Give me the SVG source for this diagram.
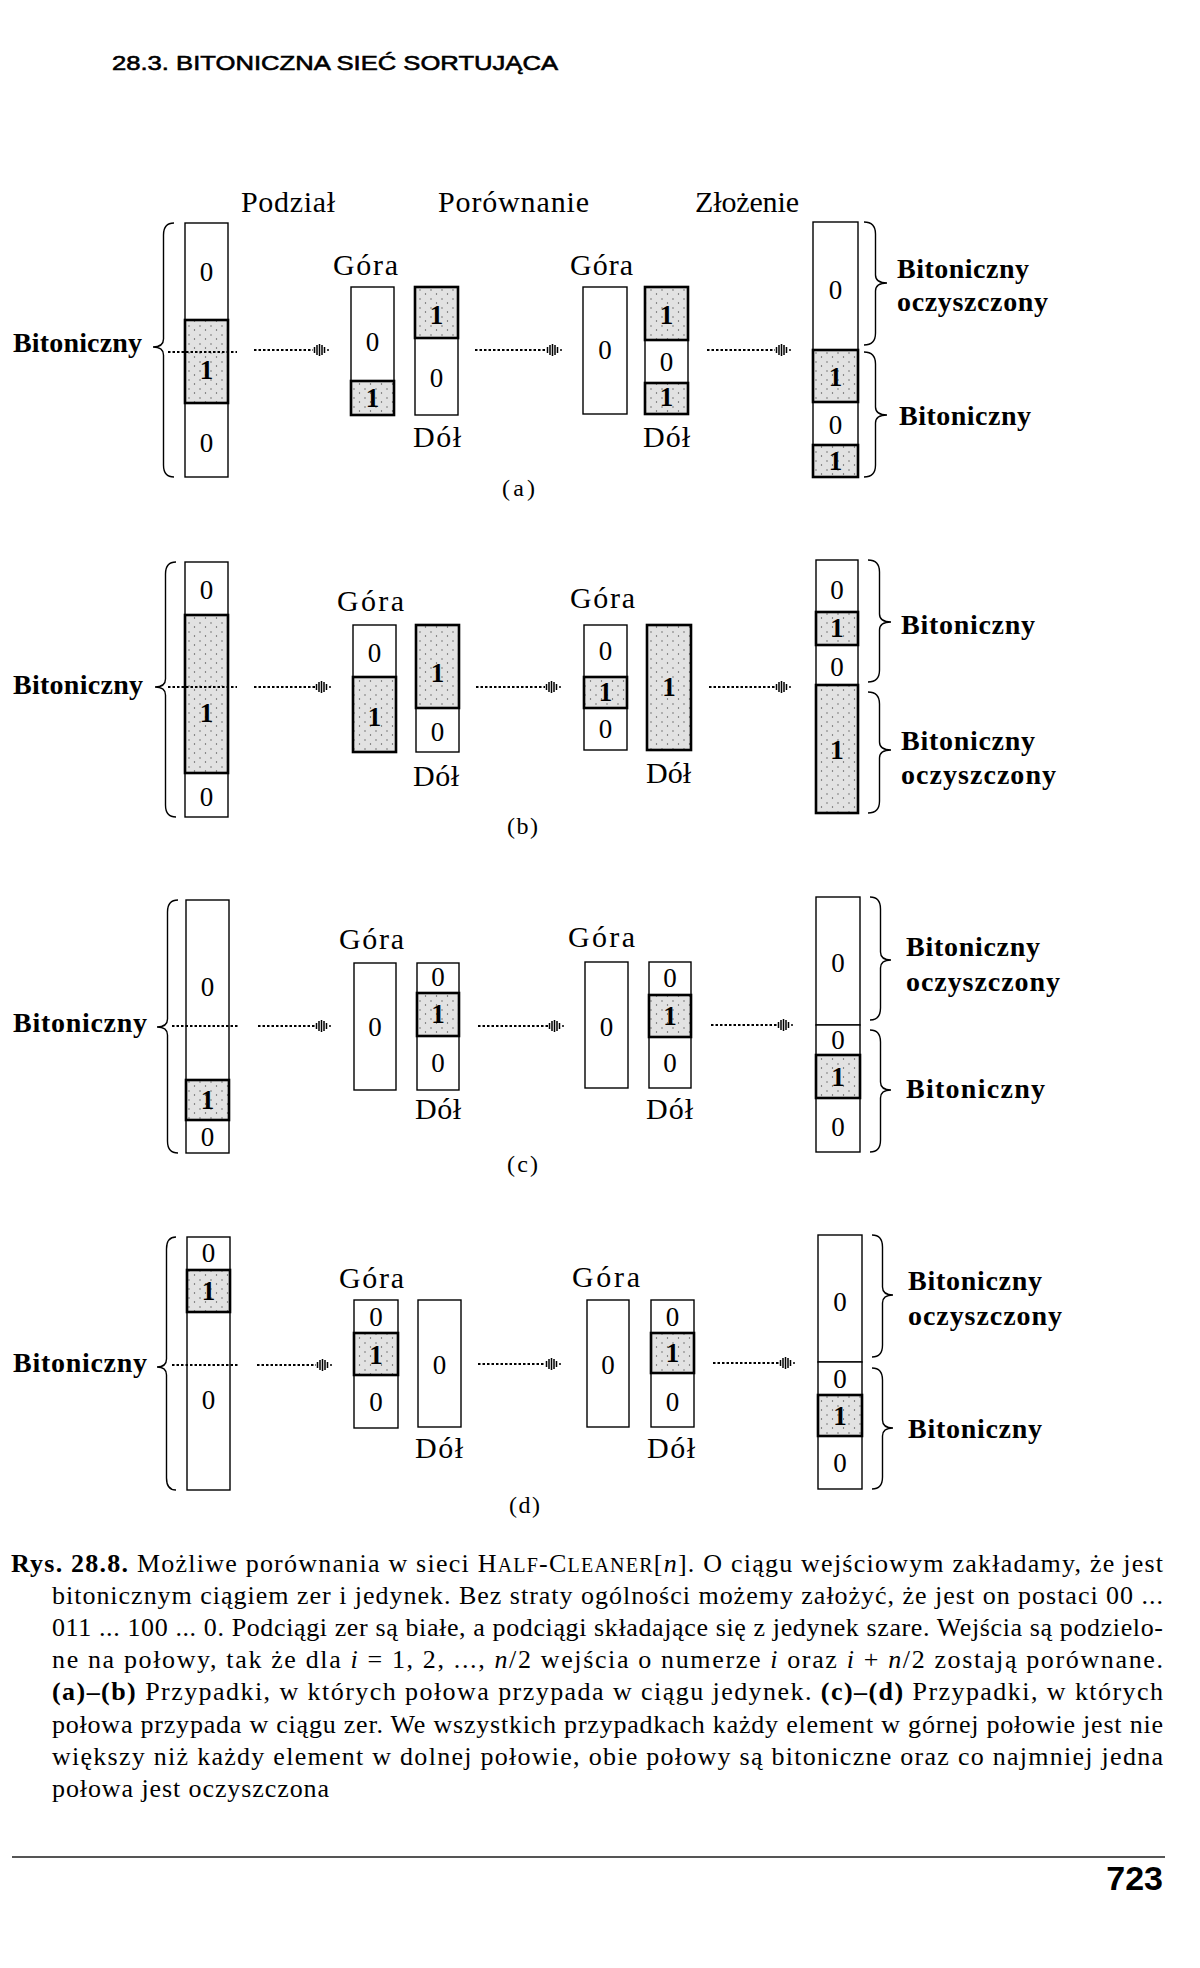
<svg xmlns="http://www.w3.org/2000/svg" width="1200" height="1968" viewBox="0 0 1200 1968">
<defs>
<style>
.w{fill:#fff;stroke:#000;stroke-width:1.4}
.g{fill:url(#stip);stroke:#000;stroke-width:2.6}
.d0{font-family:"Liberation Serif",serif;font-size:27px;text-anchor:middle}
.d1{font-family:"Liberation Serif",serif;font-size:27px;font-weight:bold;text-anchor:middle}
.hd{font-family:"Liberation Serif",serif;font-size:30px}
.gd{font-family:"Liberation Serif",serif;font-size:30px}
.bl{font-family:"Liberation Serif",serif;font-size:28px;font-weight:bold}
.pl{font-family:"Liberation Serif",serif;font-size:24px}
.dot{fill:none;stroke:#000;stroke-width:2;stroke-dasharray:2.5 2}
.br{fill:none;stroke:#000;stroke-width:1.4}
.cap{font-family:"Liberation Serif",serif;font-size:26px}
</style>
<pattern id="stip" width="11" height="9" patternUnits="userSpaceOnUse">
<rect width="11" height="9" fill="#e2e2e2"/>
<circle cx="2" cy="2" r="0.7" fill="#555"/>
<circle cx="7.5" cy="6" r="0.7" fill="#555"/>
</pattern>
<marker id="head" markerUnits="userSpaceOnUse" markerWidth="18" markerHeight="14" viewBox="0 -7 18 14" refX="0" refY="0" orient="auto">
<path d="M1.5 -3V3M4 -5V5M6.5 -6V6M9 -5V5M11.5 -3V3" stroke="#000" stroke-width="1.5" fill="none"/>
<circle cx="15" cy="0" r="1" fill="#000"/>
</marker>
</defs>
<rect width="1200" height="1968" fill="#fff"/>

<text x="112" y="70" font-family="'Liberation Sans',Arial,sans-serif" font-size="21" stroke="#000" stroke-width="0.6" textLength="446" lengthAdjust="spacingAndGlyphs">28.3.  BITONICZNA SIEĆ SORTUJĄCA</text>

<g id="headings">
<text class="hd" x="241" y="212" textLength="94">Podział</text>
<text class="hd" x="438" y="212" textLength="151">Porównanie</text>
<text class="hd" x="695" y="212" textLength="104">Złożenie</text>
</g>

<!-- ===== Panel (a) ===== -->
<g id="a-labels">
<text class="bl" x="13" y="352" textLength="129">Bitoniczny</text>
<text class="gd" x="333" y="275" textLength="65">Góra</text>
<text class="gd" x="413" y="447" textLength="48">Dół</text>
<text class="gd" x="570" y="275" textLength="63">Góra</text>
<text class="gd" x="643" y="447" textLength="47">Dół</text>
<text class="pl" x="502" y="496" textLength="33">(a)</text>
<text class="bl" x="897" y="278" textLength="132">Bitoniczny</text>
<text class="bl" x="897" y="311" textLength="151">oczyszczony</text>
<text class="bl" x="899" y="425" textLength="132">Bitoniczny</text>
</g>
<g id="a-input">
<rect class="w" x="185" y="223" width="43" height="97"/><text class="d0" x="206.5" y="281">0</text>
<rect class="w" x="185" y="403" width="43" height="74"/><text class="d0" x="206.5" y="452">0</text>
<rect class="g" x="185" y="320" width="43" height="83"/><text class="d1" x="206.5" y="379">1</text>
</g>
<g id="a-top1">
<rect class="w" x="351" y="287" width="43" height="94"/><text class="d0" x="372.5" y="351">0</text>
<rect class="g" x="351" y="381" width="43" height="34"/><text class="d1" x="372.5" y="407">1</text>
</g>
<g id="a-bot1">
<rect class="w" x="415" y="338" width="43" height="77"/><text class="d0" x="436.5" y="387">0</text>
<rect class="g" x="415" y="287" width="43" height="51"/><text class="d1" x="436.5" y="324">1</text>
</g>
<g id="a-top2">
<rect class="w" x="583" y="287" width="44" height="127"/><text class="d0" x="605" y="359">0</text>
</g>
<g id="a-bot2">
<rect class="w" x="645" y="340" width="43" height="43"/><text class="d0" x="666.5" y="371">0</text>
<rect class="g" x="645" y="287" width="43" height="53"/><text class="d1" x="666.5" y="324">1</text>
<rect class="g" x="645" y="383" width="43" height="31"/><text class="d1" x="666.5" y="406">1</text>
</g>
<g id="a-output">
<rect class="w" x="813" y="222" width="45" height="128"/><text class="d0" x="835.5" y="299">0</text>
<rect class="w" x="813" y="402" width="45" height="43"/><text class="d0" x="835.5" y="434">0</text>
<rect class="g" x="813" y="350" width="45" height="52"/><text class="d1" x="835.5" y="386">1</text>
<rect class="g" x="813" y="445" width="45" height="32"/><text class="d1" x="835.5" y="470">1</text>
</g>

<!-- ===== Panel (b) ===== -->
<g id="b-labels">
<text class="bl" x="13" y="694" textLength="130">Bitoniczny</text>
<text class="gd" x="337" y="611" textLength="67">Góra</text>
<text class="gd" x="413" y="786" textLength="46">Dół</text>
<text class="gd" x="570" y="608" textLength="65">Góra</text>
<text class="gd" x="646" y="783" textLength="45">Dół</text>
<text class="pl" x="507" y="834" textLength="31">(b)</text>
<text class="bl" x="901" y="634" textLength="134">Bitoniczny</text>
<text class="bl" x="901" y="750" textLength="134">Bitoniczny</text>
<text class="bl" x="901" y="784" textLength="155">oczyszczony</text>
</g>
<g id="b-input">
<rect class="w" x="185" y="562" width="43" height="53"/><text class="d0" x="206.5" y="599">0</text>
<rect class="w" x="185" y="773" width="43" height="44"/><text class="d0" x="206.5" y="806">0</text>
<rect class="g" x="185" y="615" width="43" height="158"/><text class="d1" x="206.5" y="722">1</text>
</g>
<g id="b-top1">
<rect class="w" x="353" y="625" width="43" height="52"/><text class="d0" x="374.5" y="662">0</text>
<rect class="g" x="353" y="677" width="43" height="75"/><text class="d1" x="374.5" y="726">1</text>
</g>
<g id="b-bot1">
<rect class="w" x="416" y="708" width="43" height="44"/><text class="d0" x="437.5" y="741">0</text>
<rect class="g" x="416" y="625" width="43" height="83"/><text class="d1" x="437.5" y="682">1</text>
</g>
<g id="b-top2">
<rect class="w" x="584" y="625" width="43" height="52"/><text class="d0" x="605.5" y="660">0</text>
<rect class="w" x="584" y="708" width="43" height="42"/><text class="d0" x="605.5" y="738">0</text>
<rect class="g" x="584" y="677" width="43" height="31"/><text class="d1" x="605.5" y="701">1</text>
</g>
<g id="b-bot2">
<rect class="g" x="647" y="625" width="44" height="125"/><text class="d1" x="669" y="696">1</text>
</g>
<g id="b-output">
<rect class="w" x="816" y="560" width="42" height="52"/><text class="d0" x="837" y="599">0</text>
<rect class="w" x="816" y="645" width="42" height="40"/><text class="d0" x="837" y="676">0</text>
<rect class="g" x="816" y="612" width="42" height="33"/><text class="d1" x="837" y="637">1</text>
<rect class="g" x="816" y="685" width="42" height="128"/><text class="d1" x="837" y="759">1</text>
</g>

<!-- ===== Panel (c) ===== -->
<g id="c-labels">
<text class="bl" x="13" y="1032" textLength="134">Bitoniczny</text>
<text class="gd" x="339" y="949" textLength="65">Góra</text>
<text class="gd" x="415" y="1119" textLength="46">Dół</text>
<text class="gd" x="568" y="947" textLength="67">Góra</text>
<text class="gd" x="646" y="1119" textLength="47">Dół</text>
<text class="pl" x="507" y="1172" textLength="31">(c)</text>
<text class="bl" x="906" y="956" textLength="134">Bitoniczny</text>
<text class="bl" x="906" y="991" textLength="154">oczyszczony</text>
<text class="bl" x="906" y="1098" textLength="139">Bitoniczny</text>
</g>
<g id="c-input">
<rect class="w" x="186" y="900" width="43" height="180"/><text class="d0" x="207.5" y="996">0</text>
<rect class="w" x="186" y="1120" width="43" height="33"/><text class="d0" x="207.5" y="1146">0</text>
<rect class="g" x="186" y="1080" width="43" height="40"/><text class="d1" x="207.5" y="1109">1</text>
</g>
<g id="c-top1">
<rect class="w" x="354" y="963" width="42" height="127"/><text class="d0" x="375" y="1036">0</text>
</g>
<g id="c-bot1">
<rect class="w" x="417" y="963" width="42" height="30"/><text class="d0" x="438" y="986">0</text>
<rect class="w" x="417" y="1036" width="42" height="54"/><text class="d0" x="438" y="1072">0</text>
<rect class="g" x="417" y="993" width="42" height="43"/><text class="d1" x="438" y="1023">1</text>
</g>
<g id="c-top2">
<rect class="w" x="585" y="962" width="43" height="126"/><text class="d0" x="606.5" y="1036">0</text>
</g>
<g id="c-bot2">
<rect class="w" x="649" y="962" width="42" height="33"/><text class="d0" x="670" y="987">0</text>
<rect class="w" x="649" y="1037" width="42" height="51"/><text class="d0" x="670" y="1072">0</text>
<rect class="g" x="649" y="995" width="42" height="42"/><text class="d1" x="670" y="1025">1</text>
</g>
<g id="c-output">
<rect class="w" x="816" y="897" width="44" height="128"/><text class="d0" x="838" y="972">0</text>
<rect class="w" x="816" y="1025" width="44" height="30"/><text class="d0" x="838" y="1049">0</text>
<rect class="w" x="816" y="1098" width="44" height="54"/><text class="d0" x="838" y="1136">0</text>
<rect class="g" x="816" y="1055" width="44" height="43"/><text class="d1" x="838" y="1086">1</text>
</g>

<!-- ===== Panel (d) ===== -->
<g id="d-labels">
<text class="bl" x="13" y="1372" textLength="134">Bitoniczny</text>
<text class="gd" x="339" y="1288" textLength="65">Góra</text>
<text class="gd" x="415" y="1458" textLength="48">Dół</text>
<text class="gd" x="572" y="1287" textLength="68">Góra</text>
<text class="gd" x="647" y="1458" textLength="48">Dół</text>
<text class="pl" x="509" y="1513" textLength="31">(d)</text>
<text class="bl" x="908" y="1290" textLength="134">Bitoniczny</text>
<text class="bl" x="908" y="1325" textLength="154">oczyszczony</text>
<text class="bl" x="908" y="1438" textLength="134">Bitoniczny</text>
</g>
<g id="d-input">
<rect class="w" x="187" y="1237" width="43" height="33"/><text class="d0" x="208.5" y="1262">0</text>
<rect class="w" x="187" y="1312" width="43" height="178"/><text class="d0" x="208.5" y="1409">0</text>
<rect class="g" x="187" y="1270" width="43" height="42"/><text class="d1" x="208.5" y="1300">1</text>
</g>
<g id="d-top1">
<rect class="w" x="354" y="1300" width="44" height="33"/><text class="d0" x="376" y="1326">0</text>
<rect class="w" x="354" y="1375" width="44" height="53"/><text class="d0" x="376" y="1411">0</text>
<rect class="g" x="354" y="1333" width="44" height="42"/><text class="d1" x="376" y="1364">1</text>
</g>
<g id="d-bot1">
<rect class="w" x="418" y="1300" width="43" height="127"/><text class="d0" x="439.5" y="1374">0</text>
</g>
<g id="d-top2">
<rect class="w" x="587" y="1300" width="42" height="127"/><text class="d0" x="608" y="1374">0</text>
</g>
<g id="d-bot2">
<rect class="w" x="651" y="1300" width="43" height="33"/><text class="d0" x="672.5" y="1326">0</text>
<rect class="w" x="651" y="1373" width="43" height="54"/><text class="d0" x="672.5" y="1411">0</text>
<rect class="g" x="651" y="1333" width="43" height="40"/><text class="d1" x="672.5" y="1362">1</text>
</g>
<g id="d-output">
<rect class="w" x="818" y="1235" width="44" height="127"/><text class="d0" x="840" y="1311">0</text>
<rect class="w" x="818" y="1362" width="44" height="33"/><text class="d0" x="840" y="1388">0</text>
<rect class="w" x="818" y="1436" width="44" height="53"/><text class="d0" x="840" y="1472">0</text>
<rect class="g" x="818" y="1395" width="44" height="41"/><text class="d1" x="840" y="1425">1</text>
</g>

<!-- braces -->
<g id="braces">
<path class="br" d="M174 223Q163.5 223 163.5 235L163.5 339Q163.5 347 153 347Q163.5 347 163.5 355L163.5 465Q163.5 477 174 477"/>
<path class="br" d="M864 222Q875.5 222 875.5 234L875.5 275Q875.5 283 887 283Q875.5 283 875.5 291L875.5 333Q875.5 345 864 345"/>
<path class="br" d="M864 352Q875.5 352 875.5 364L875.5 407Q875.5 415 887 415Q875.5 415 875.5 423L875.5 465Q875.5 477 864 477"/>

<path class="br" d="M176 562Q165.5 562 165.5 574L165.5 679Q165.5 687 155 687Q165.5 687 165.5 695L165.5 805Q165.5 817 176 817"/>
<path class="br" d="M868 560Q879.5 560 879.5 572L879.5 614Q879.5 622 891 622Q879.5 622 879.5 630L879.5 670Q879.5 682 868 682"/>
<path class="br" d="M868 692Q879.5 692 879.5 704L879.5 742Q879.5 750 891 750Q879.5 750 879.5 758L879.5 801Q879.5 813 868 813"/>

<path class="br" d="M178 900Q167.5 900 167.5 912L167.5 1019Q167.5 1027 157 1027Q167.5 1027 167.5 1035L167.5 1141Q167.5 1153 178 1153"/>
<path class="br" d="M870 897Q880.5 897 880.5 909L880.5 952Q880.5 960 891 960Q880.5 960 880.5 968L880.5 1008Q880.5 1020 870 1020"/>
<path class="br" d="M870 1030Q880.5 1030 880.5 1042L880.5 1082Q880.5 1090 891 1090Q880.5 1090 880.5 1098L880.5 1140Q880.5 1152 870 1152"/>

<path class="br" d="M176 1237Q166.5 1237 166.5 1249L166.5 1359Q166.5 1367 157 1367Q166.5 1367 166.5 1375L166.5 1478Q166.5 1490 176 1490"/>
<path class="br" d="M872 1235Q882.5 1235 882.5 1247L882.5 1287Q882.5 1295 893 1295Q882.5 1295 882.5 1303L882.5 1345Q882.5 1357 872 1357"/>
<path class="br" d="M872 1368Q882.5 1368 882.5 1380L882.5 1420Q882.5 1428 893 1428Q882.5 1428 882.5 1436L882.5 1477Q882.5 1489 872 1489"/>
</g>

<!-- connectors -->
<g id="connectors">
<path class="dot" d="M168 352H237"/>
<path class="dot" d="M254 350H313" marker-end="url(#head)"/>
<path class="dot" d="M475 350H546" marker-end="url(#head)"/>
<path class="dot" d="M707 350H775" marker-end="url(#head)"/>

<path class="dot" d="M168 687H237"/>
<path class="dot" d="M254 687H315" marker-end="url(#head)"/>
<path class="dot" d="M476 687H545" marker-end="url(#head)"/>
<path class="dot" d="M709 687H775" marker-end="url(#head)"/>

<path class="dot" d="M172 1026H239"/>
<path class="dot" d="M258 1026H315" marker-end="url(#head)"/>
<path class="dot" d="M478 1026H548" marker-end="url(#head)"/>
<path class="dot" d="M711 1025H777" marker-end="url(#head)"/>

<path class="dot" d="M172 1365H239"/>
<path class="dot" d="M257 1365H316" marker-end="url(#head)"/>
<path class="dot" d="M478 1364H545" marker-end="url(#head)"/>
<path class="dot" d="M713 1363H779" marker-end="url(#head)"/>
</g>

<!-- caption -->
<g id="caption">
<text class="cap" x="11" y="1572" textLength="1152"><tspan font-weight="bold">Rys. 28.8.</tspan> Możliwe porównania w sieci H<tspan font-size="20">ALF</tspan>-C<tspan font-size="20">LEANER</tspan>[<tspan font-style="italic">n</tspan>]. O ciągu wejściowym zakładamy, że jest</text>
<text class="cap" x="52" y="1604" textLength="1111">bitonicznym ciągiem zer i jedynek. Bez straty ogólności możemy założyć, że jest on postaci 00 ...</text>
<text class="cap" x="52" y="1636" textLength="1111">011 ... 100 ... 0. Podciągi zer są białe, a podciągi składające się z jedynek szare. Wejścia są podzielo-</text>
<text class="cap" x="52" y="1668" textLength="1111">ne na połowy, tak że dla <tspan font-style="italic">i</tspan> = 1, 2, ..., <tspan font-style="italic">n</tspan>/2 wejścia o numerze <tspan font-style="italic">i</tspan> oraz <tspan font-style="italic">i</tspan> + <tspan font-style="italic">n</tspan>/2 zostają porównane.</text>
<text class="cap" x="52" y="1700" textLength="1111"><tspan font-weight="bold">(a)–(b)</tspan> Przypadki, w których połowa przypada w ciągu jedynek. <tspan font-weight="bold">(c)–(d)</tspan> Przypadki, w których</text>
<text class="cap" x="52" y="1733" textLength="1111">połowa przypada w ciągu zer. We wszystkich przypadkach każdy element w górnej połowie jest nie</text>
<text class="cap" x="52" y="1765" textLength="1111">większy niż każdy element w dolnej połowie, obie połowy są bitoniczne oraz co najmniej jedna</text>
<text class="cap" x="52" y="1797" textLength="277">połowa jest oczyszczona</text>
</g>

<line x1="12" y1="1857" x2="1165" y2="1857" stroke="#555" stroke-width="2"/>
<text x="1163" y="1890" text-anchor="end" font-family="'Liberation Sans',Arial,sans-serif" font-size="34" font-weight="bold">723</text>
</svg>
